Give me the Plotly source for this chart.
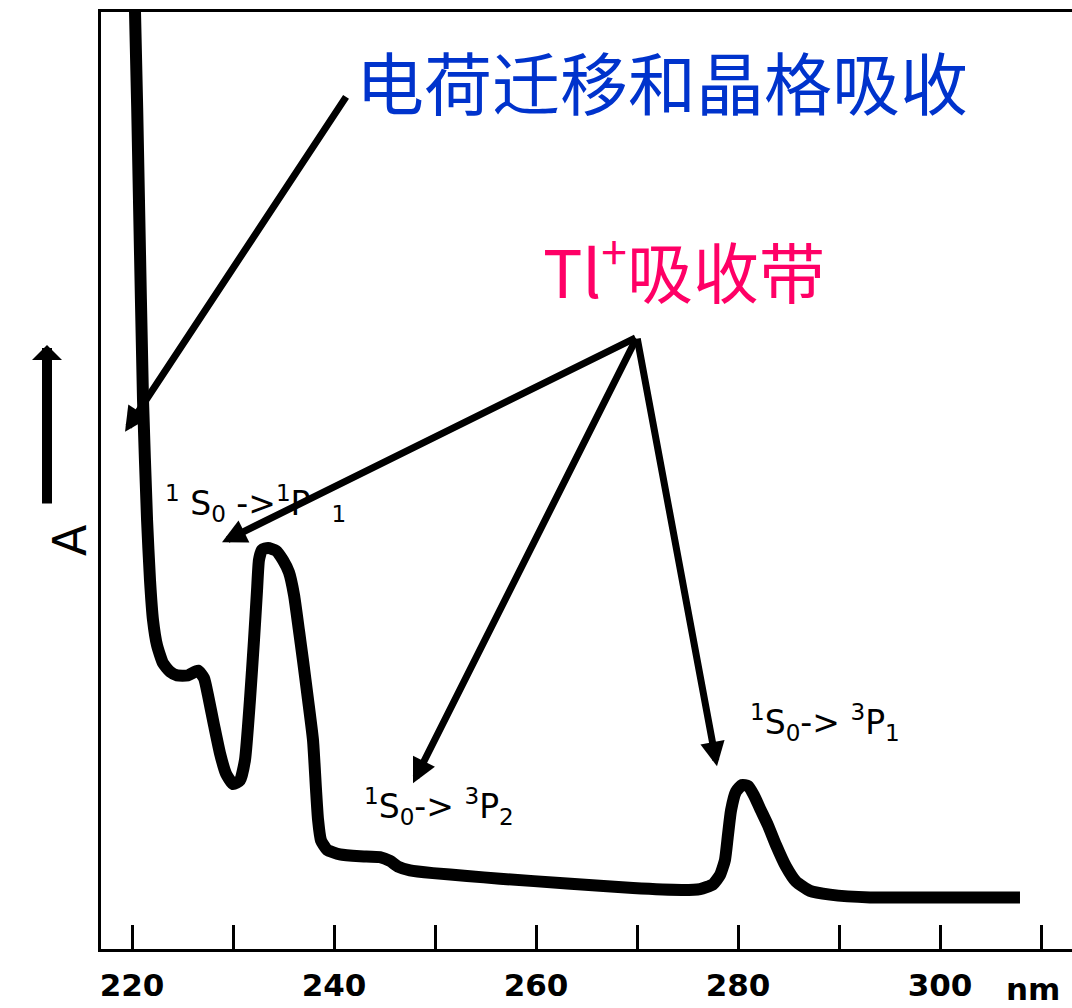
import plotly.graph_objects as go

# ---- data ----
wavelength_nm = [219.8, 220.3, 220.69, 221.09, 221.49, 221.78, 222.08, 222.48, 223.07, 223.76,
                 224.46, 225.54, 226.53, 227.13, 227.52, 228.12, 228.71, 229.31, 230.0, 230.69,
                 231.19, 231.68, 232.08, 232.38, 232.57, 232.87, 233.47, 234.26, 234.95, 235.54,
                 236.04, 236.53, 236.93, 237.43, 237.92, 238.22, 238.42, 238.71, 239.31, 240.59,
                 242.57, 244.55, 245.54, 246.34, 247.52, 249.8, 253.17, 256.44, 263.07, 269.6,
                 274.55, 276.24, 277.52, 278.22, 278.71, 279.01, 279.31, 279.8, 280.4, 280.99,
                 281.58, 282.18, 282.97, 283.76, 284.75, 285.74, 287.13, 289.11, 293.07, 301.0,
                 307.92]
absorbance = [109.8, 99.9, 79.9, 58.6, 45.8, 39.4, 35.1, 32.4, 30.5, 29.6,
              29.2, 29.2, 29.7, 28.9, 27.1, 23.9, 20.9, 18.7, 17.6, 18.0,
              20.2, 26.6, 33.0, 38.3, 41.5, 42.6, 42.8, 42.5, 41.5, 40.2,
              37.8, 34.0, 30.8, 26.6, 22.3, 17.0, 13.8, 11.6, 10.6, 10.1,
              9.9, 9.8, 9.4, 8.8, 8.4, 8.1, 7.8, 7.5, 7.0, 6.5,
              6.3, 6.4, 6.9, 7.9, 9.5, 12.2, 14.8, 16.8, 17.5, 17.4,
              16.4, 15.0, 13.2, 11.1, 8.8, 7.2, 6.2, 5.8, 5.5, 5.5,
              5.5]

tick_values = [220, 230, 240, 250, 260, 270, 280, 290, 300, 310]
tick_labels = ["220", "", "240", "", "260", "", "280", "", "300", ""]

title_ct = "电荷迁移和晶格吸收"
title_tl = "Tl<sup>+</sup>吸收带"
label_1p1 = "<sup>1</sup> S<sub>0</sub> -><sup>1</sup>P  <sub>1</sub>"
label_3p2 = "<sup>1</sup>S<sub>0</sub>-> <sup>3</sup>P<sub>2</sub>"
label_3p1 = "<sup>1</sup>S<sub>0</sub>-> <sup>3</sup>P<sub>1</sub>"

W, H = 1072, 1008
L, R, T, B = 101, 0, 12, 59
PW, PH = W - L - R, H - T - B


def paper(px, py):
    return (px - L) / PW, (H - B - py) / PH


fig = go.Figure()
fig.add_trace(go.Scatter(
    x=wavelength_nm, y=absorbance, mode="lines",
    line=dict(color="black", width=12, shape="spline", smoothing=0.5),
    hoverinfo="skip", showlegend=False,
))

ann = []
# Chinese titles
x0, y0 = paper(354, 80)
ann.append(dict(xref="paper", yref="paper", x=x0, y=y0, xanchor="left", yanchor="middle",
                text=title_ct, showarrow=False,
                font=dict(family="Noto Sans CJK SC", size=68, color="#0033CC")))
x0, y0 = paper(541, 266)
ann.append(dict(xref="paper", yref="paper", x=x0, y=y0, xanchor="left", yanchor="middle",
                text=title_tl, showarrow=False,
                font=dict(family="Noto Sans CJK SC", size=66, color="#FF0066")))

# transition labels
lab_font = dict(family="DejaVu Sans", size=33, color="black")
for txt, (px, py) in [(label_1p1, (163, 503)), (label_3p2, (362, 806)), (label_3p1, (748, 722))]:
    x0, y0 = paper(px, py)
    ann.append(dict(xref="paper", yref="paper", x=x0, y=y0, xanchor="left", yanchor="middle",
                    text=txt, showarrow=False, font=lab_font))

# black pointer arrows (data coordinates)
arrows = [
    ((219.31, 55.2), (241.29, 91.1)),
    ((228.91, 43.4), (270.0, 65.3)),
    ((247.82, 17.7), (270.0, 65.3)),
    ((277.92, 19.5), (270.0, 65.3)),
]
for (hx, hy), (tx, ty) in arrows:
    ann.append(dict(x=hx, y=hy, ax=tx, ay=ty, xref="x", yref="y", axref="x", ayref="y",
                    showarrow=True, arrowhead=2, arrowsize=0.7, arrowwidth=7,
                    arrowcolor="black", text=""))

# y-axis "A" with up arrow
x0, y0 = paper(41, 540)
ann.append(dict(xref="paper", yref="paper", x=x0, y=y0, text="A", textangle=-90,
                showarrow=False, font=dict(family="DejaVu Sans", size=46, color="black")))
x0, y0 = paper(47, 345)
ann.append(dict(xref="paper", yref="paper", x=x0, y=y0, ax=0, ay=160, text="",
                showarrow=True, arrowhead=1, arrowsize=0.5, arrowwidth=10, arrowcolor="black"))

# "nm" unit after 300
x0, y0 = paper(1004, 989)
ann.append(dict(xref="paper", yref="paper", x=x0, y=y0, xanchor="left", yanchor="middle",
                text="nm", showarrow=False,
                font=dict(family="DejaVu Sans", size=31, color="black", weight="bold")))

fig.update_layout(
    width=W, height=H,
    margin=dict(l=L, r=R, t=T, b=B, pad=0, autoexpand=False),
    paper_bgcolor="white", plot_bgcolor="white",
    annotations=ann,
    xaxis=dict(
        range=[220 - (132 - L) / 10.1, 220 + (W - 132) / 10.1],
        tickmode="array", tickvals=tick_values, ticktext=tick_labels,
        ticks="inside", ticklen=24, tickwidth=3, tickcolor="black",
        showline=True, linecolor="black", linewidth=3, mirror=True,
        showgrid=False, zeroline=False, ticklabelstandoff=7, automargin=False,
        tickfont=dict(family="DejaVu Sans", size=31, color="black", weight="bold"),
    ),
    yaxis=dict(
        range=[0, 100], showticklabels=False, ticks="", automargin=False,
        showline=True, linecolor="black", linewidth=3, mirror=False,
        showgrid=False, zeroline=False,
    ),
)

fig.write_html("out.html")
